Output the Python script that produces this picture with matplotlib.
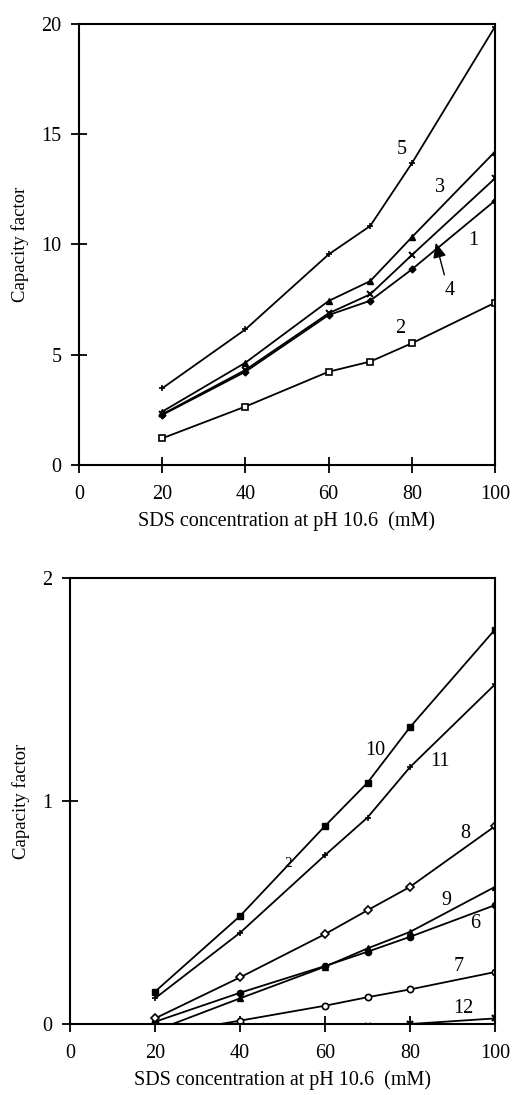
import numpy as np
import matplotlib
matplotlib.use("Agg")
import matplotlib.pyplot as plt

plt.rcParams['font.family'] = ['Liberation Serif', 'DejaVu Serif']

conc = [20, 40, 60, 70, 80, 100]

# Top panel series
s1 = [2.27, 4.23, 6.80, 7.45, 8.87, 11.99]
s2 = [1.21, 2.65, 4.23, 4.69, 5.52, 7.36]
s3 = [2.42, 4.64, 7.44, 8.34, 10.33, 14.21]
s4 = [2.30, 4.31, 6.88, 7.74, 9.52, 13.00]
s5 = [3.48, 6.15, 9.55, 10.84, 13.68, 19.88]

# Bottom panel series
s6 = [0.01, 0.14, 0.26, 0.324, 0.391, 0.533]
s7 = [-0.05, 0.015, 0.082, 0.12, 0.155, 0.233]
s8 = [0.025, 0.209, 0.403, 0.51, 0.615, 0.887]
s9 = [-0.03, 0.115, 0.257, 0.339, 0.413, 0.615]
s10 = [0.145, 0.484, 0.888, 1.082, 1.331, 1.769]
s11 = [0.115, 0.409, 0.757, 0.926, 1.152, 1.523]
s12 = [np.nan, np.nan, np.nan, -0.01, 0.0, 0.025]

xticks = [0, 20, 40, 60, 80, 100]
top_yticks = [0, 5, 10, 15, 20]
bot_yticks = [0, 1, 2]
xlabel = "SDS concentration at pH 10.6  (mM)"
ylabel = "Capacity factor"

fig = plt.figure(figsize=(5.12, 10.95), dpi=100)
ax1 = fig.add_axes([79/512, 1-465/1095, (495-79)/512, (465-24)/1095])
ax2 = fig.add_axes([70/512, 1-1024/1095, (495-70)/512, (1024-578)/1095])

lw = 1.3
ms = 4.5
kw = dict(color='black', lw=lw, ms=ms)

ax1.plot(conc, s1, marker='D', mfc='black', ms=3.5, color='black', lw=lw)
ax1.plot(conc, s2, marker='s', mfc='white', mew=1.2, **kw)
ax1.plot(conc, s3, marker='^', mfc='black', **kw)
ax1.plot(conc, s4, marker='x', mew=1.4, **kw)
ax1.plot(conc, s5, marker='+', mew=1.2, **kw)

ax2.plot(conc, s6, marker='o', mfc='black', **kw)
ax2.plot(conc, s7, marker='o', mfc='white', mew=1.2, **kw)
ax2.plot(conc, s8, marker='D', mfc='white', mew=1.2, ms=4, color='black', lw=lw)
ax2.plot(conc, s9, marker='^', mfc='black', **kw)
ax2.plot(conc, s10, marker='s', mfc='black', **kw)
ax2.plot(conc, s11, marker='+', mew=1.2, **kw)
ax2.plot(conc, s12, marker='x', mew=1.6, **kw)

fs = 14.5
for ax, yt, ylim in [(ax1, top_yticks, (0, 20)), (ax2, bot_yticks, (0, 2))]:
    ax.set_xlim(0, 100)
    ax.set_ylim(*ylim)
    ax.set_xticks(xticks)
    ax.set_yticks(yt)
    ax.tick_params(direction='inout', length=11, width=1.3, labelsize=fs, pad=7)
    ax.tick_params(axis='x', pad=9)
    for sp in ax.spines.values():
        sp.set_linewidth(1.5)
    ax.set_xlabel(xlabel, fontsize=fs, labelpad=5)
    ax.set_ylabel(ylabel, fontsize=13.5, labelpad=9)

tfs = 14.5
for t, x, y in [("5", 77.6, 14.3), ("3", 86.8, 12.6), ("1", 94.7, 10.2),
                ("4", 89.2, 7.9), ("2", 77.2, 6.2)]:
    ax1.text(x, y, t, fontsize=tfs, ha='center', va='center')
ax1.annotate("", xy=(85.6, 10.2), xytext=(88.0, 8.5),
             arrowprops=dict(arrowstyle='-|>,head_length=0.9,head_width=0.4',
                             color='black', lw=1.0))

for t, x, y in [("10", 71.8, 1.227), ("11", 87.1, 1.175), ("8", 92.9, 0.854),
                ("9", 88.6, 0.555), ("6", 95.3, 0.451), ("7", 91.4, 0.257),
                ("12", 92.5, 0.07)]:
    ax2.text(x, y, t, fontsize=tfs, ha='center', va='center')
ax2.text(51.3, 0.72, "2", fontsize=11, ha='center', va='center')

fig.savefig("out.png", dpi=100)
